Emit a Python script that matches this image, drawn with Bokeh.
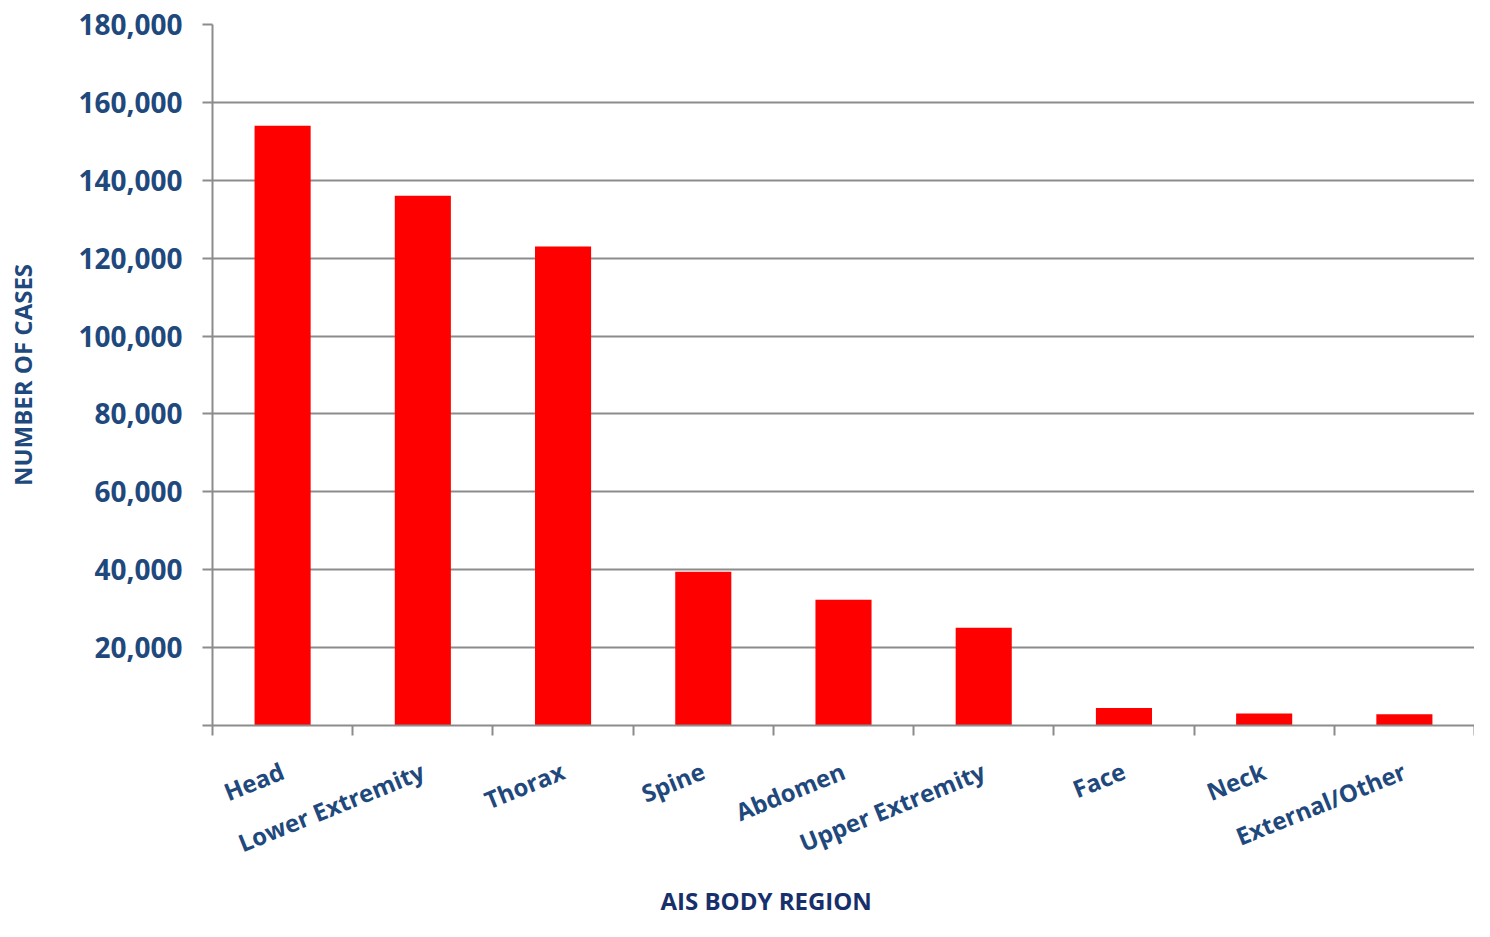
from bokeh.plotting import figure
from bokeh.models import Range1d, FixedTicker, NumeralTickFormatter, ColumnDataSource, Title
from bokeh.embed import file_html
from bokeh.resources import INLINE
import math

regions = ["Head", "Lower Extremity", "Thorax", "Spine", "Abdomen",
           "Upper Extremity", "Face", "Neck", "External/Other"]
cases = [154000, 136000, 123000, 39500, 32300, 25100, 4500, 3100, 2900]
y_ticks = [0, 20000, 40000, 60000, 80000, 100000, 120000, 140000, 160000, 180000]

FONT = "Open Sans"
TXT = "#1F497D"
GRID = "#8C8C8C"

n = len(regions)
xs = [i + 0.5 for i in range(n)]
src = ColumnDataSource(dict(x=xs, top=cases, name=regions))

p = figure(width=1474, height=921, output_backend="svg", toolbar_location=None,
           x_range=Range1d(0, n), y_range=Range1d(0, 180000),
           min_border_left=212, min_border_right=0, min_border_top=24, min_border_bottom=196)
p.outline_line_color = None
p.background_fill_color = "white"
p.border_fill_color = "white"

p.vbar(x="x", top="top", width=0.4, source=src, fill_color="#FF0000", line_color=None)

# y axis
ya = p.yaxis[0]
ya.ticker = FixedTicker(ticks=y_ticks)
ya.formatter = NumeralTickFormatter(format="0,0")
ya.major_label_overrides = {0: ""}
ya.major_label_text_font = FONT
ya.major_label_text_font_style = "bold"
ya.major_label_text_font_size = "28px"
ya.major_label_text_color = TXT
ya.major_label_standoff = 20
ya.major_tick_in = 0
ya.major_tick_out = 10
ya.major_tick_line_color = GRID
ya.major_tick_line_width = 2
ya.minor_tick_line_color = None
ya.axis_line_color = GRID
ya.axis_line_width = 2
ya.axis_label = "NUMBER OF CASES"
ya.axis_label_text_font = FONT
ya.axis_label_text_font_style = "bold"
ya.axis_label_text_font_size = "24px"
ya.axis_label_text_color = TXT
ya.axis_label_standoff = 36

# x axis: labels at category centres, tick marks at category boundaries
xa = p.xaxis[0]
xa.ticker = FixedTicker(ticks=xs, minor_ticks=list(range(n + 1)))
xa.major_label_overrides = {x: name for x, name in zip(xs, regions)}
xa.major_label_orientation = math.radians(22)
xa.major_label_text_font = FONT
xa.major_label_text_font_style = "bold"
xa.major_label_text_font_size = "24px"
xa.major_label_text_color = TXT
xa.major_label_standoff = 34
xa.major_tick_in = 0
xa.major_tick_out = 0
xa.major_tick_line_color = None
xa.minor_tick_in = 0
xa.minor_tick_out = 10
xa.minor_tick_line_color = GRID
xa.minor_tick_line_width = 2
xa.axis_line_color = GRID
xa.axis_line_width = 2

p.ygrid.ticker = FixedTicker(ticks=y_ticks)
p.ygrid.grid_line_color = GRID
p.ygrid.grid_line_width = 2
p.xgrid.grid_line_color = None

p.add_layout(Title(text="AIS BODY REGION", align="left", offset=448, standoff=9,
                   text_font=FONT, text_font_style="bold", text_font_size="24px",
                   text_color="#172F6B"), "below")

open("out.html", "w").write(file_html(p, INLINE))
